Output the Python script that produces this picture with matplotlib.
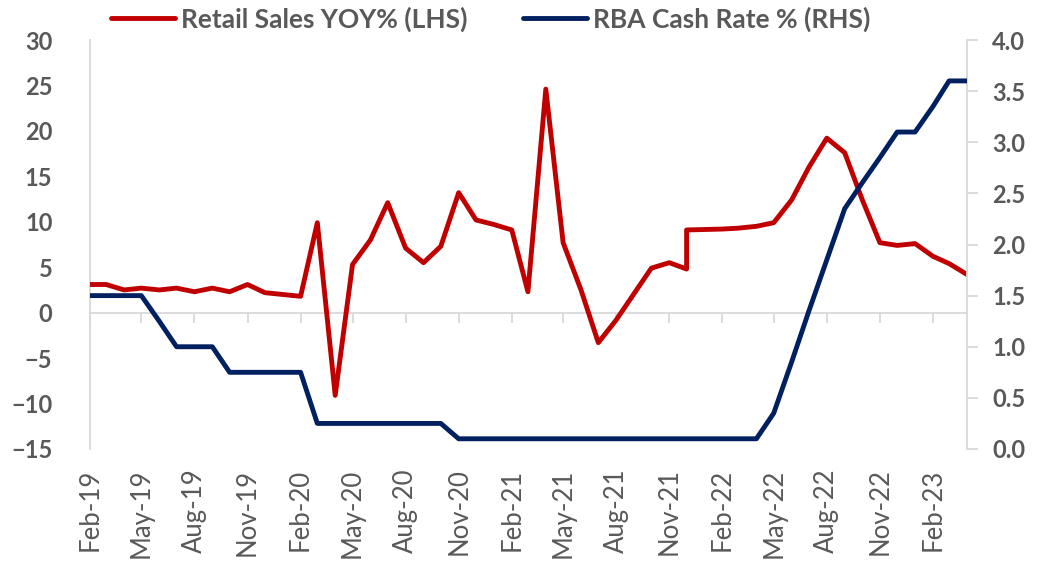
import numpy as np
import pandas as pd
import matplotlib
matplotlib.use('Agg')
import matplotlib.pyplot as plt
import matplotlib.dates as mdates
import matplotlib.ticker as mticker

plt.rcParams['font.family'] = ['Lato', 'DejaVu Sans']
FONT = 17
GREY = '#595959'
AXIS = '#D9D9D9'

# ── Data ──────────────────────────────────────────────────────────────────────
months = pd.date_range('2019-02-01', '2023-04-01', freq='MS')

# Retail series has two readings for Dec-21 (series break)
retail_dates = months.insert(35, months[34])
retail_yoy = [3.1, 3.1, 2.5, 2.7, 2.5, 2.7, 2.3, 2.7, 2.3, 3.1, 2.2, 2.0,
              1.8, 9.9, -9.1, 5.3, 8.0, 12.1, 7.1, 5.5, 7.3, 13.2, 10.2, 9.7,
              9.1, 2.3, 24.6, 7.7, 2.5, -3.3, -0.8, 2.1, 4.9, 5.5, 4.8, 9.1,
              9.15, 9.2, 9.3, 9.5, 9.9, 12.4, 16.0, 19.2, 17.6, 12.5, 7.7,
              7.4, 7.6, 6.2, 5.4, 4.2]

cash_rate = [1.5, 1.5, 1.5, 1.5, 1.25, 1.0, 1.0, 1.0, 0.75, 0.75, 0.75, 0.75,
             0.75, 0.25, 0.25, 0.25, 0.25, 0.25, 0.25, 0.25, 0.25, 0.1, 0.1,
             0.1, 0.1, 0.1, 0.1, 0.1, 0.1, 0.1, 0.1, 0.1, 0.1, 0.1, 0.1, 0.1,
             0.1, 0.1, 0.1, 0.35, 0.85, 1.35, 1.85, 2.35, 2.6, 2.85, 3.1,
             3.1, 3.35, 3.6, 3.6]

left_ticks = np.arange(-15, 31, 5)
right_ticks = np.arange(0, 4.01, 0.5)
tick_months = months[::3]

col_retail = '#C00000'
col_cash = '#002060'

# ── Figure ────────────────────────────────────────────────────────────────────
fig = plt.figure(figsize=(10.5, 5.61), dpi=100)
ax = fig.add_axes([90 / 1050, 1 - 449 / 561, (967 - 90) / 1050, (449 - 40) / 561])
ax2 = ax.twinx()

ax.plot(retail_dates, retail_yoy, color=col_retail, lw=3.5,
        solid_capstyle='round', solid_joinstyle='round',
        label='Retail Sales YOY% (LHS)', zorder=3)
ax2.plot(months, cash_rate, color=col_cash, lw=3.5,
         solid_capstyle='round', solid_joinstyle='round',
         label='RBA Cash Rate % (RHS)', zorder=3)

ax.set_xlim(months[0], months[-1])
ax.set_ylim(-15, 30)
ax2.set_ylim(0, 4)

# left axis
ax.set_yticks(left_ticks)
ax.tick_params(axis='y', length=0, pad=27, labelsize=FONT, labelcolor=GREY)
for lab in ax.get_yticklabels():
    lab.set_fontweight('bold')
ax.spines['left'].set_color(AXIS)
ax.spines['left'].set_linewidth(1.3)
ax.spines['top'].set_visible(False)
ax.spines['right'].set_visible(False)

# zero line with tick marks, labels go to the bottom
ax.spines['bottom'].set_position(('data', 0))
ax.spines['bottom'].set_color(AXIS)
ax.spines['bottom'].set_linewidth(1.3)
ax.set_xticks(tick_months)
ax.tick_params(axis='x', direction='out', length=7, width=1.3, color=AXIS,
               labelbottom=False)

sec = ax.secondary_xaxis('bottom')
sec.set_xticks(tick_months)
sec.xaxis.set_major_formatter(mdates.DateFormatter('%b-%y'))
sec.tick_params(axis='x', length=0, pad=14, labelsize=FONT + 1.5,
                labelcolor=GREY, rotation=90)
sec.spines['bottom'].set_visible(False)

# right axis
ax2.set_yticks(right_ticks)
ax2.yaxis.set_major_formatter(mticker.FormatStrFormatter('%.1f'))
ax2.tick_params(axis='y', direction='out', length=8, width=1.3, color=AXIS,
                pad=10, labelsize=FONT, labelcolor=GREY)
for lab in ax2.get_yticklabels():
    lab.set_fontweight('bold')
ax2.spines['right'].set_color(AXIS)
ax2.spines['right'].set_linewidth(1.3)
for s in ['top', 'left', 'bottom']:
    ax2.spines[s].set_visible(False)

# legend across the top
h1, l1 = ax.get_legend_handles_labels()
h2, l2 = ax2.get_legend_handles_labels()
leg = fig.legend(h1 + h2, l1 + l2, loc='center', ncol=2,
                 bbox_to_anchor=(0.4676, 0.966), frameon=False,
                 handlelength=2.4, handletextpad=0.25, columnspacing=2.1,
                 borderpad=0, prop={'size': 19, 'weight': 'bold'})
for t in leg.get_texts():
    t.set_color(GREY)

fig.savefig('out.png', dpi=100)
